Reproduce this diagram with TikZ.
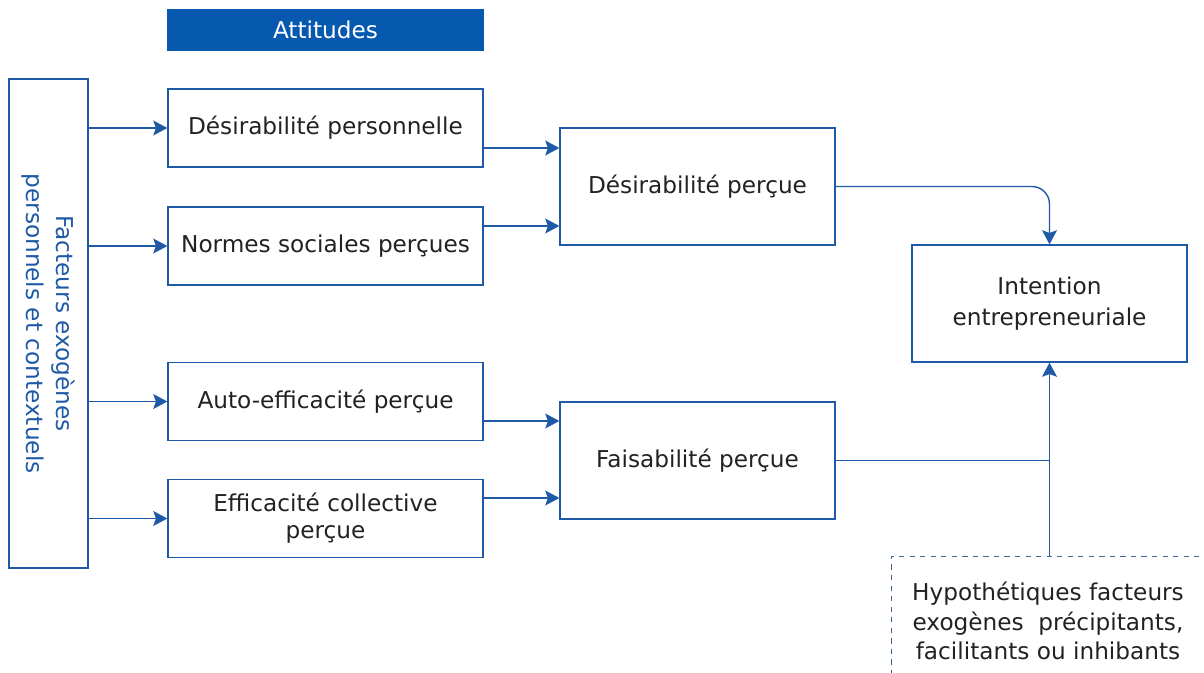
\documentclass[tikz,border=0pt]{standalone}
\usepackage{fontspec}
\setmainfont{DejaVu Sans}
\usepackage{tikz}
\usetikzlibrary{arrows.meta,positioning}
\definecolor{ink}{HTML}{1F5AA6}
\definecolor{band}{HTML}{0759B0}
\definecolor{txt}{HTML}{222222}

\tikzset{
  box/.style={draw=ink,thick,fill=white,text=txt,align=center,
    font=\fontsize{13.2}{15.5}\selectfont,inner sep=2pt},
  flow/.style={->,thick,ink},
  link/.style={thick,ink}
}

\begin{document}
\begin{tikzpicture}[x=0.02cm,y=-0.02cm,>={Stealth[length=8pt,width=8.5pt,inset=1.5pt]}]
  \useasboundingbox (0,0) rectangle (1204,673);
  % titre
  \node[box,fill=band,draw=band,text=white,minimum width=6.3cm,minimum height=0.8cm]
    (att) at (325.5,30) {Attitudes};
  % facteurs exogenes
  \node[box,rotate=-90,text=ink,minimum width=9.78cm,minimum height=1.58cm,
    font=\fontsize{13.2}{17}\selectfont] (fx) at (48.5,323.5)
    {Facteurs exogènes\\personnels et contextuels};
  % premiere colonne
  \node[box,minimum width=6.3cm,minimum height=1.56cm] (dp) at (325.5,128) {Désirabilité personnelle};
  \node[box,minimum width=6.3cm,minimum height=1.56cm] (ns) at (325.5,246) {Normes sociales perçues};
  \node[box,minimum width=6.3cm,minimum height=1.56cm] (ae) at (325.5,401.5) {Auto-efficacité perçue};
  \node[box,minimum width=6.3cm,minimum height=1.56cm] (ec) at (325.5,518.5) {Efficacité collective\\perçue};
  % deuxieme colonne
  \node[box,minimum width=5.5cm,minimum height=2.34cm] (dpc) at (697.5,186.5) {Désirabilité perçue};
  \node[box,minimum width=5.5cm,minimum height=2.34cm] (fp) at (697.5,460.5) {Faisabilité perçue};
  \node[box,minimum width=5.5cm,minimum height=2.34cm,
    font=\fontsize{13.2}{17.5}\selectfont] (ie) at (1049.5,303.5) {Intention\\entrepreneuriale};
  % facteurs hypothetiques (bord droit et bas hors cadre)
  \node[box,draw=none,minimum width=6.24cm,minimum height=2.56cm,
    font=\fontsize{13.2}{17}\selectfont] (hy) at (1048,621)
    {Hypothétiques facteurs\\exogènes\ \ précipitants,\\facilitants ou inhibants};
  \draw[ink!70!gray,dashed] (hy.south west) -- (hy.north west) -- ([xshift=20pt]hy.north east);

  \foreach \b in {dp,ns,ae,ec}
    \draw[flow] (fx.north |- \b.west) -- (\b.west);
  \draw[flow] (dp.east |- 0,148) -- (dpc.west |- 0,148);
  \draw[flow] (ns.east |- 0,226) -- (dpc.west |- 0,226);
  \draw[flow] (ae.east |- 0,421) -- (fp.west |- 0,421);
  \draw[flow] (ec.east |- 0,498) -- (fp.west |- 0,498);
  \draw[flow,rounded corners=10pt] (dpc.east) -| (ie.north);
  \draw[flow] (ie.south |- hy.north) -- (ie.south);
  \draw[link] (fp.east) -- (fp.east -| ie.south);
\end{tikzpicture}
\end{document}
